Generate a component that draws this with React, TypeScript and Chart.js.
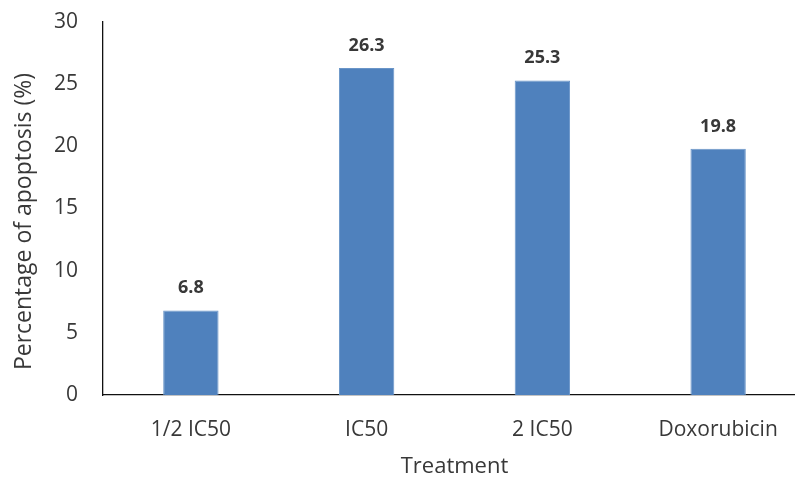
import React, { useEffect, useRef } from "react";
import { Chart, registerables } from "chart.js";

Chart.register(...registerables);

const categories = ["1/2 IC50", "IC50", "2 IC50", "Doxorubicin"];
const apoptosis = [6.8, 26.3, 25.3, 19.8];
const yTicks = [0, 5, 10, 15, 20, 25, 30];
const xTitle = "Treatment";
const yTitle = "Percentage of apoptosis (%)";

const FONT = "'Open Sans', 'DejaVu Sans', sans-serif";
const TEXT = "#383838";

// Bold value written above each bar, plus the vertical axis title
const annotations = {
  id: "annotations",
  afterDatasetsDraw(chart: any) {
    const { ctx, chartArea } = chart;
    const meta = chart.getDatasetMeta(0);
    ctx.save();
    ctx.font = `bold 18px ${FONT}`;
    ctx.fillStyle = TEXT;
    ctx.textAlign = "center";
    ctx.textBaseline = "alphabetic";
    meta.data.forEach((bar: any, i: number) => {
      ctx.fillText(apoptosis[i].toFixed(1), bar.x, bar.y - 17);
    });
    ctx.restore();

    ctx.save();
    ctx.font = `23px ${FONT}`;
    ctx.fillStyle = TEXT;
    ctx.textAlign = "center";
    ctx.textBaseline = "middle";
    ctx.translate(24, (chartArea.top + chartArea.bottom) / 2 + 13);
    ctx.rotate(-Math.PI / 2);
    ctx.fillText(yTitle, 0, 0);
    ctx.restore();
  },
};

export default function App() {
  const ref = useRef<HTMLCanvasElement>(null);

  useEffect(() => {
    if (!ref.current) return;
    const chart = new Chart(ref.current, {
      type: "bar",
      data: {
        labels: categories,
        datasets: [
          {
            data: apoptosis,
            backgroundColor: "#4f81bd",
            borderColor: "#6a95c8",
            borderWidth: 1,
            categoryPercentage: 1,
            barPercentage: 0.315,
          },
        ],
      },
      options: {
        animation: false,
        responsive: false,
        maintainAspectRatio: false,
        layout: { padding: { top: 22, right: 0, left: 0, bottom: 0 } },
        plugins: {
          legend: { display: false },
          tooltip: { enabled: false },
        },
        scales: {
          x: {
            grid: { display: false, drawTicks: false },
            border: { display: true, color: "#111", width: 1.3 },
            ticks: {
              color: TEXT,
              font: { family: FONT, size: 21 },
              padding: 22,
            },
            title: {
              display: true,
              text: xTitle,
              color: TEXT,
              font: { family: FONT, size: 22, lineHeight: 1 },
              padding: { top: 0, bottom: 0 },
            },
            afterFit(scale: any) {
              scale.height = 83;
              scale.paddingLeft = 0;
              scale.paddingRight = 0;
            },
          },
          y: {
            min: 0,
            max: 30,
            afterBuildTicks(scale: any) {
              scale.ticks = yTicks.map((v) => ({ value: v }));
            },
            grid: { display: false, drawTicks: false },
            border: { display: true, color: "#111", width: 1.3 },
            ticks: {
              color: TEXT,
              font: { family: FONT, size: 21 },
              padding: 25,
            },
            afterFit(scale: any) {
              scale.width = 103;
              scale.paddingTop = 0;
              scale.paddingBottom = 0;
            },
          },
        },
      },
      plugins: [annotations],
    });
    return () => chart.destroy();
  }, []);

  return (
    <div
      style={{
        position: "fixed",
        left: 0,
        top: 0,
        width: 795,
        height: 478,
        overflow: "hidden",
        background: "#fff",
      }}
    >
      <canvas ref={ref} width={806} height={478} style={{ display: "block" }} />
    </div>
  );
}
